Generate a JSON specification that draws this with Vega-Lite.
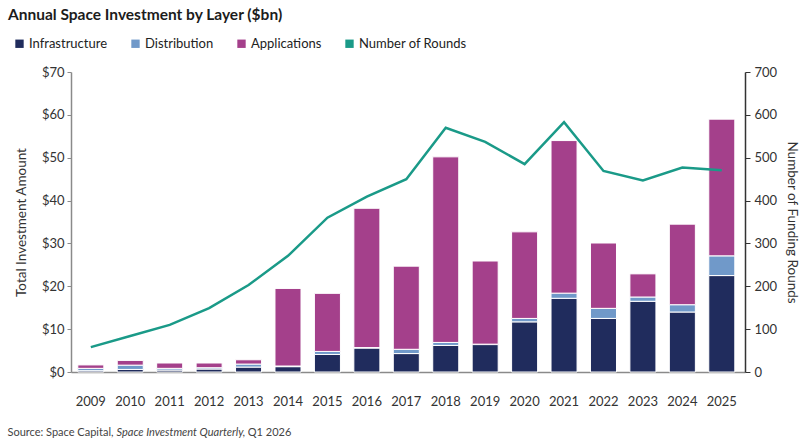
{
  "$schema": "https://vega.github.io/schema/vega-lite/v6.json",
  "width": 674,
  "height": 300,
  "autosize": {"type": "none"},
  "padding": {"left": 71, "top": 72, "right": 62, "bottom": 75},
  "background": "white",
  "config": {
    "view": {"stroke": null},
    "font": "Lato",
    "axis": {"labelFont": "Lato", "titleFont": "Lato", "labelFontSize": 13, "titleFontSize": 13.5, "titleFontWeight": "normal", "labelColor": "#333333", "titleColor": "#333333", "grid": false}
  },
  "title": {
    "text": "Annual Space Investment by Layer ($bn)",
    "anchor": "start",
    "frame": "group",
    "font": "Lato",
    "fontSize": 15.5,
    "fontWeight": "bold",
    "color": "#1c1c1c",
    "dx": -63,
    "offset": 14
  },
  "datasets": {
    "invest": [
      {"year": "2009", "layer": "Infrastructure", "amount": 0.3},
      {"year": "2009", "layer": "Distribution", "amount": 0.55},
      {"year": "2009", "layer": "Applications", "amount": 0.8},
      {"year": "2010", "layer": "Infrastructure", "amount": 0.6},
      {"year": "2010", "layer": "Distribution", "amount": 1.0},
      {"year": "2010", "layer": "Applications", "amount": 1.1},
      {"year": "2011", "layer": "Infrastructure", "amount": 0.45},
      {"year": "2011", "layer": "Distribution", "amount": 0.4},
      {"year": "2011", "layer": "Applications", "amount": 1.25},
      {"year": "2012", "layer": "Infrastructure", "amount": 0.7},
      {"year": "2012", "layer": "Distribution", "amount": 0.3},
      {"year": "2012", "layer": "Applications", "amount": 1.1},
      {"year": "2013", "layer": "Infrastructure", "amount": 1.15},
      {"year": "2013", "layer": "Distribution", "amount": 0.7},
      {"year": "2013", "layer": "Applications", "amount": 1.0},
      {"year": "2014", "layer": "Infrastructure", "amount": 1.25},
      {"year": "2014", "layer": "Distribution", "amount": 0.15},
      {"year": "2014", "layer": "Applications", "amount": 18.1},
      {"year": "2015", "layer": "Infrastructure", "amount": 4.1},
      {"year": "2015", "layer": "Distribution", "amount": 0.7},
      {"year": "2015", "layer": "Applications", "amount": 13.55},
      {"year": "2016", "layer": "Infrastructure", "amount": 5.6},
      {"year": "2016", "layer": "Distribution", "amount": 0.1},
      {"year": "2016", "layer": "Applications", "amount": 32.5},
      {"year": "2017", "layer": "Infrastructure", "amount": 4.3},
      {"year": "2017", "layer": "Distribution", "amount": 1.0},
      {"year": "2017", "layer": "Applications", "amount": 19.4},
      {"year": "2018", "layer": "Infrastructure", "amount": 6.2},
      {"year": "2018", "layer": "Distribution", "amount": 0.7},
      {"year": "2018", "layer": "Applications", "amount": 43.3},
      {"year": "2019", "layer": "Infrastructure", "amount": 6.4},
      {"year": "2019", "layer": "Distribution", "amount": 0.1},
      {"year": "2019", "layer": "Applications", "amount": 19.4},
      {"year": "2020", "layer": "Infrastructure", "amount": 11.7},
      {"year": "2020", "layer": "Distribution", "amount": 0.8},
      {"year": "2020", "layer": "Applications", "amount": 20.2},
      {"year": "2021", "layer": "Infrastructure", "amount": 17.2},
      {"year": "2021", "layer": "Distribution", "amount": 1.2},
      {"year": "2021", "layer": "Applications", "amount": 35.6},
      {"year": "2022", "layer": "Infrastructure", "amount": 12.5},
      {"year": "2022", "layer": "Distribution", "amount": 2.35},
      {"year": "2022", "layer": "Applications", "amount": 15.25},
      {"year": "2023", "layer": "Infrastructure", "amount": 16.5},
      {"year": "2023", "layer": "Distribution", "amount": 1.0},
      {"year": "2023", "layer": "Applications", "amount": 5.4},
      {"year": "2024", "layer": "Infrastructure", "amount": 14.0},
      {"year": "2024", "layer": "Distribution", "amount": 1.7},
      {"year": "2024", "layer": "Applications", "amount": 18.8},
      {"year": "2025", "layer": "Infrastructure", "amount": 22.5},
      {"year": "2025", "layer": "Distribution", "amount": 4.6},
      {"year": "2025", "layer": "Applications", "amount": 31.9}
    ],
    "rounds": [
      {"year": "2009", "rounds": 58},
      {"year": "2010", "rounds": 84},
      {"year": "2011", "rounds": 110},
      {"year": "2012", "rounds": 149},
      {"year": "2013", "rounds": 203},
      {"year": "2014", "rounds": 271},
      {"year": "2015", "rounds": 360},
      {"year": "2016", "rounds": 409},
      {"year": "2017", "rounds": 450},
      {"year": "2018", "rounds": 570},
      {"year": "2019", "rounds": 537},
      {"year": "2020", "rounds": 485},
      {"year": "2021", "rounds": 583},
      {"year": "2022", "rounds": 469},
      {"year": "2023", "rounds": 447},
      {"year": "2024", "rounds": 477},
      {"year": "2025", "rounds": 471}
    ]
  },
  "layer": [
    {
      "data": {"name": "invest"},
      "mark": {"type": "bar", "stroke": "white", "strokeWidth": 1},
      "encoding": {
        "x": {
          "field": "year",
          "type": "ordinal",
          "scale": {"paddingInner": 0.34, "paddingOuter": 0.2155, "align": 0.4},
          "axis": {
            "orient": "bottom",
            "labelAngle": 0,
            "ticks": false,
            "labelPadding": 23,
            "domainColor": "#8a8a8a",
            "domainWidth": 1.5,
            "title": "Source: Space Capital,",
            "titleFontSize": 11,
            "titleColor": "#444444",
            "titleX": -64,
            "titleY": 60,
            "titleAlign": "left",
            "titleAnchor": "start",
            "titleBaseline": "middle"
          }
        },
        "y": {
          "field": "amount",
          "type": "quantitative",
          "stack": "zero",
          "scale": {"domain": [0, 70], "nice": false},
          "axis": {
            "title": "Total Investment Amount",
            "values": [0, 10, 20, 30, 40, 50, 60, 70],
            "format": "$.0f",
            "tickSize": 4,
            "labelPadding": 3,
            "titlePadding": 13,
            "domainColor": "#8a8a8a",
            "tickColor": "#8a8a8a",
            "domainWidth": 1.5
          }
        },
        "color": {
          "field": "layer",
          "type": "nominal",
          "scale": {
            "domain": ["Infrastructure", "Distribution", "Applications", "Number of Rounds"],
            "range": ["#202c5d", "#7099c9", "#a4408b", "#1a9a88"]
          },
          "legend": {
            "title": null,
            "orient": "none",
            "direction": "horizontal",
            "legendX": -58,
            "legendY": -35,
            "symbolType": "square",
            "symbolSize": 70,
            "symbolStrokeWidth": 0,
            "labelFont": "Lato",
            "labelFontSize": 13,
            "labelColor": "#222222",
            "labelOffset": 3,
            "columnPadding": 21
          }
        },
        "order": {"field": "layer", "sort": "descending"}
      }
    },
    {
      "data": {"name": "rounds"},
      "mark": {"type": "line", "color": "#1a9a88", "strokeWidth": 2.5},
      "encoding": {
        "x": {
          "field": "year",
          "type": "ordinal",
          "scale": {"type": "band", "paddingInner": 0.34, "paddingOuter": 0.2155, "align": 0.4},
          "axis": {
            "orient": "bottom",
            "labels": false,
            "ticks": false,
            "domain": false,
            "title": "Space Investment Quarterly",
            "titleFontSize": 11,
            "titleFontStyle": "italic",
            "titleColor": "#444444",
            "titleX": 45,
            "titleY": 60,
            "titleAlign": "left",
            "titleAnchor": "start",
            "titleBaseline": "middle"
          }
        },
        "y": {
          "field": "rounds",
          "type": "quantitative",
          "scale": {"domain": [0, 700], "nice": false},
          "axis": {
            "orient": "right",
            "title": "Number of Funding Rounds",
            "values": [0, 100, 200, 300, 400, 500, 600, 700],
            "tickSize": 5,
            "labelPadding": 4,
            "titlePadding": 8,
            "domainColor": "#333333",
            "tickColor": "#333333",
            "domainWidth": 1.5
          }
        }
      }
    },
    {
      "data": {"name": "rounds"},
      "mark": {"type": "point", "opacity": 0},
      "encoding": {
        "x": {
          "field": "year",
          "type": "ordinal",
          "scale": {"type": "band", "paddingInner": 0.34, "paddingOuter": 0.2155, "align": 0.4},
          "axis": {
            "orient": "bottom",
            "labels": false,
            "ticks": false,
            "domain": false,
            "title": ", Q1 2026",
            "titleFontSize": 11,
            "titleColor": "#444444",
            "titleX": 171,
            "titleY": 60,
            "titleAlign": "left",
            "titleAnchor": "start",
            "titleBaseline": "middle"
          }
        },
        "y": {
          "field": "rounds",
          "type": "quantitative",
          "scale": {"domain": [0, 700], "nice": false},
          "axis": null
        }
      }
    }
  ],
  "resolve": {"scale": {"y": "independent", "x": "independent"}, "axis": {"x": "independent"}}
}
